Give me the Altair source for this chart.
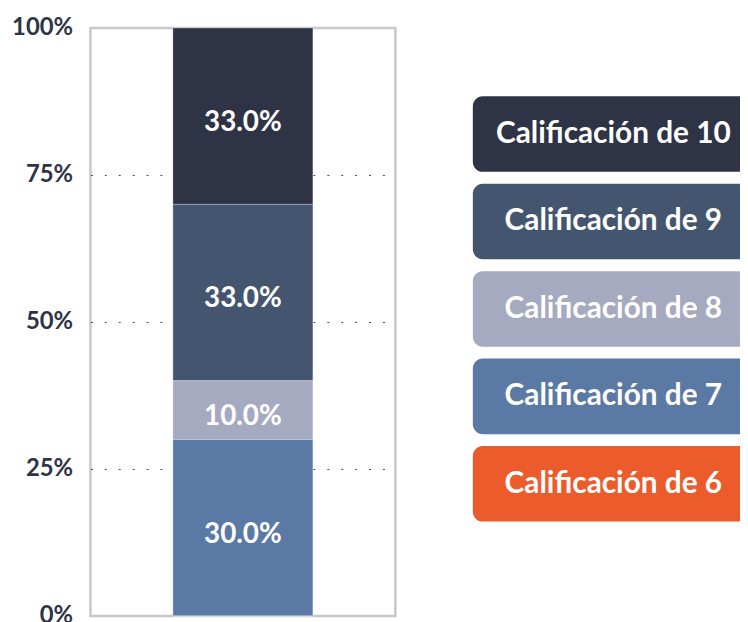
import altair as alt
import pandas as pd

grades = ["Calificación de 10", "Calificación de 9", "Calificación de 8",
          "Calificación de 7", "Calificación de 6"]
bar_heights = [30, 30, 10, 30, 0]
bar_labels = ["33.0%", "33.0%", "10.0%", "30.0%", ""]
stack_rank = [4, 3, 2, 1, 0]
colors = ["#2E3346", "#44566F", "#A5AAC0", "#5A79A5", "#EC5B2C"]
y_ticks = [0, 25, 50, 75, 100]

df = pd.DataFrame({
    "grade": grades,
    "value": bar_heights,
    "label": bar_labels,
    "rank": stack_rank,
})

FONT = "Lato"
DARK = "#2E3346"

color_enc = alt.Color("grade:N", scale=alt.Scale(domain=grades, range=colors), legend=None)

base = alt.Chart(df).transform_calculate(bar="'all'").transform_stack(
    stack="value", as_=["y0", "y1"], groupby=["bar"],
    sort=[alt.SortField("rank", order="ascending")]
).transform_calculate(mid="(datum.y0 + datum.y1) / 2")

x_enc = alt.X("bar:N", axis=None, scale=alt.Scale(paddingInner=0, paddingOuter=0.589))

bars = base.mark_bar(stroke="#ffffff", strokeOpacity=0.3, strokeWidth=1).encode(
    x=x_enc,
    y=alt.Y("y0:Q", scale=alt.Scale(domain=[0, 100], nice=False),
            axis=alt.Axis(values=y_ticks, labelExpr="datum.value + '%'", title=None,
                          domain=False, ticks=False, tickSize=0, labelPadding=18,
                          labelFont=FONT, labelFontSize=24, labelFontWeight="bold",
                          labelColor=DARK,
                          grid=True, gridColor="#444444", gridDash=[2, 12], gridWidth=1,
                          gridOpacity={"condition": {"test": "datum.value == 0 || datum.value == 100", "value": 0}, "value": 1})),
    y2="y1:Q",
    color=color_enc,
)

texts = base.transform_filter("datum.value > 0").mark_text(
    font=FONT, fontSize=28, fontWeight="bold", color="white", dy=7
).encode(
    x=x_enc,
    y=alt.Y("mid:Q"),
    text="label:N",
)

left = alt.layer(bars, texts).properties(
    width=307, height=592,
    view=alt.ViewBackground(stroke="#C8C8C8", strokeWidth=2.5),
)

y_leg = alt.Y("grade:N", sort=grades, axis=None,
              scale=alt.Scale(paddingInner=0.136, paddingOuter=0.93, align=0.42))

boxes = alt.Chart(df).mark_rect(
    cornerRadiusTopLeft=10, cornerRadiusBottomLeft=10,
    cornerRadiusTopRight=0, cornerRadiusBottomRight=0
).encode(y=y_leg, color=color_enc)
box_text = alt.Chart(df).mark_text(
    font=FONT, fontSize=30, fontWeight="bold", color="white", dx=7
).encode(y=y_leg, text="grade:N")

legend = alt.layer(boxes, box_text).properties(
    width=269, height=592, view=alt.ViewBackground(stroke=None)
)

chart = alt.hconcat(left, legend, spacing=76).properties(
    padding={"left": 2, "top": 4, "right": 0, "bottom": -6}
).configure_view(stroke=None).configure(background="white")

chart.save("out.html", embed_options={"renderer": "svg", "actions": False})
